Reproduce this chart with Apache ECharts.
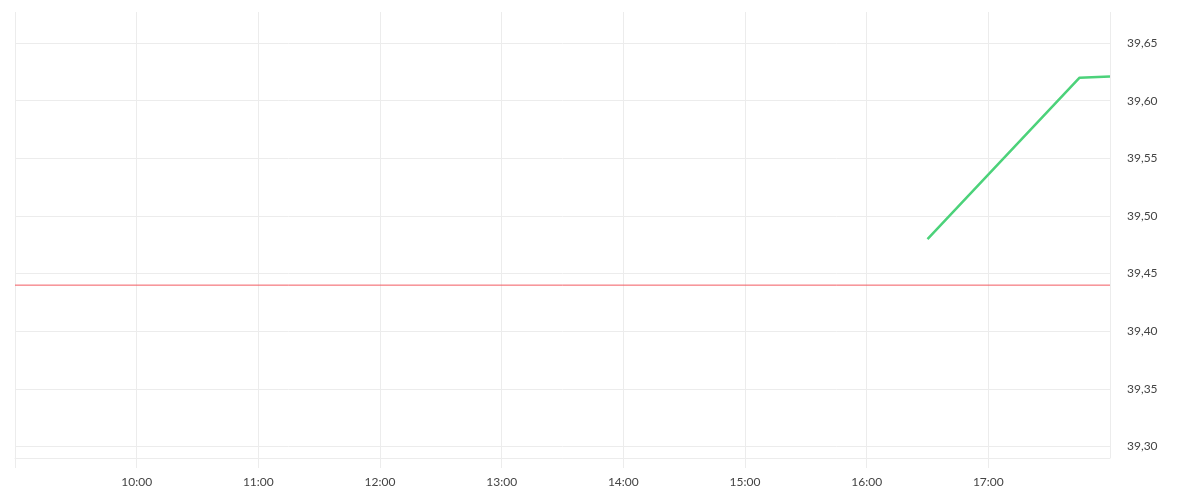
<!DOCTYPE html>
<html>
<head>
<meta charset="utf-8">
<script src="https://cdn.jsdelivr.net/npm/echarts@6/dist/echarts.min.js"></script>
<style>html,body{margin:0;padding:0;background:#fff}#c{width:1200px;height:500px}</style>
</head>
<body>
<div id="c"></div>
<script>
var day = '2024-01-15';
var axisStart = '09:00';
var axisEnd = '18:00';
var priceTimes = ['16:30', '17:45', '18:00'];
var priceValues = [39.48, 39.62, 39.621];
var refTimes = ['09:00', '18:00'];
var refValues = [39.44, 39.44];
var yMin = 39.29;
var yMax = 39.677;

function ts(t) { return new Date(day + 'T' + t + ':00').getTime(); }
function pairs(times, vals) { return times.map(function (t, i) { return [ts(t), vals[i]]; }); }

var chart = echarts.init(document.getElementById('c'));
var gridColor = '#ececec';
chart.setOption({
  animation: false,
  grid: { left: 15, right: 90, top: 12, bottom: 42, containLabel: false },
  xAxis: {
    type: 'time',
    min: ts(axisStart), max: ts(axisEnd),
    minInterval: 3600000, maxInterval: 3600000,
    axisLine: { show: true, lineStyle: { color: gridColor } },
    axisTick: { show: true, length: 10, lineStyle: { color: gridColor } },
    splitLine: { show: true, lineStyle: { color: gridColor } },
    axisLabel: {
      margin: 18,
      fontFamily: 'Lato', fontSize: 12, color: '#444',
      formatter: function (v) {
        var d = new Date(v);
        var h = d.getHours(), m = d.getMinutes();
        if (m !== 0 || h === 9 || h === 18) return '';
        return (h < 10 ? '0' : '') + h + ':00';
      }
    }
  },
  yAxis: {
    type: 'value',
    position: 'right',
    min: yMin, max: yMax,
    splitNumber: 8,
    axisLine: { show: false },
    axisTick: { show: false },
    splitLine: { show: true, lineStyle: { color: [gridColor, gridColor, gridColor, gridColor, gridColor, gridColor, gridColor, gridColor, gridColor, 'rgba(0,0,0,0)'] } },
    axisLabel: {
      margin: 17,
      fontFamily: 'Lato', fontSize: 12, color: '#444',
      formatter: function (v) {
        var r = Math.round(v * 100);
        if (Math.abs(v * 100 - r) > 1e-6 || r % 5 !== 0) return '';
        return v.toFixed(2).replace('.', ',');
      }
    }
  },
  series: [
    {
      type: 'line', data: pairs(refTimes, refValues), symbol: 'none',
      lineStyle: { color: '#f25a60', width: 1 }, silent: true
    },
    {
      type: 'line', data: pairs(priceTimes, priceValues), symbol: 'none',
      lineStyle: { color: '#4cd27a', width: 2.5 }
    }
  ]
});
</script>
</body>
</html>
